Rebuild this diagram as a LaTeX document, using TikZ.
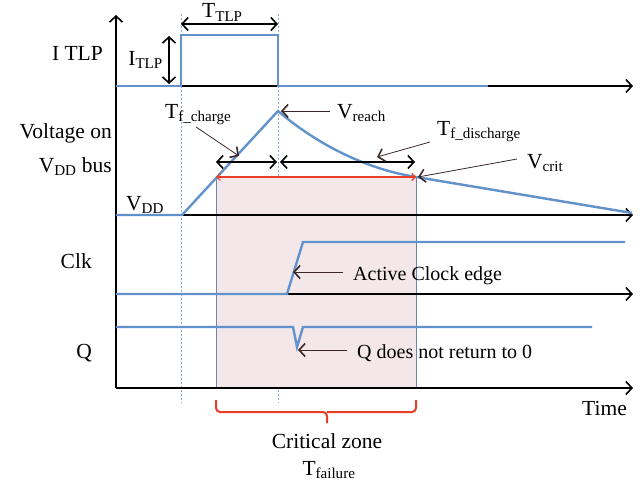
\documentclass[tikz,border=0pt]{standalone}
\usepackage{fontspec}
\setmainfont{Liberation Serif}
\usepackage{tikz}
\usetikzlibrary{arrows.meta,positioning}

\definecolor{sig}{RGB}{98,146,204}
\definecolor{zonefill}{RGB}{243,231,233}
\definecolor{zoneline}{RGB}{104,134,176}
\definecolor{crit}{RGB}{232,62,40}
\definecolor{guideblue}{RGB}{140,170,210}
\definecolor{pointer}{RGB}{60,40,40}

\tikzset{
	chev/.tip={Straight Barb[length=6pt,width=13pt,line width=1.6pt]},
	smallchev/.tip={Straight Barb[length=3.5pt,width=7pt,line width=1.2pt]},
	axis/.style={black,line width=1.5pt,-chev},
	signal/.style={sig,line width=2.4pt},
	guide/.style={guideblue,dash pattern=on 2pt off 2pt,line width=0.8pt},
	span/.style={black,line width=2pt,chev-chev},
	note/.style={pointer,line width=0.8pt,-chev},
	lbl/.style={inner sep=0pt,font=\fontsize{21.5}{25}\selectfont},
	txt/.style={inner sep=0pt,font=\fontsize{20}{24}\selectfont},
}

\begin{document}
\begin{tikzpicture}[x=1pt,y=-1pt]
	\useasboundingbox (0,0) rectangle (644,487);

	\draw[guide] (181,14) -- (181,403);
	\draw[guide] (278,14) -- (278,403);

	\draw[fill=zonefill,draw=zoneline,line width=0.8pt] (216,177) rectangle (416,388);

	\coordinate (o)     at (116,388);
	\coordinate (ytop)  at (116,15);
	\coordinate (i0)    at (116,86);
	\coordinate (i1)    at (633,86);
	\coordinate (v0)    at (116,215);
	\coordinate (v1)    at (633,215);
	\coordinate (c0)    at (116,294);
	\coordinate (c1)    at (633,294);
	\coordinate (t1)    at (633,388);

	\draw[axis] (o)  -- (ytop);
	\draw[axis] (i0) -- (i1);
	\draw[axis] (v0) -- (v1);
	\draw[axis] (c0) -- (c1);
	\draw[axis] (o)  -- (t1);

	\draw[signal] (116,86) -- (181,86) -- (181,35) -- (278,35) -- (278,86) -- (488,86);
	\draw[signal] (116,215) -- (182,215) -- (278,111)
		.. controls (312,140) and (360,168) .. (416,177) -- (632,213);
	\draw[signal] (116,294) -- (287,294) -- (303,242) -- (625,242);
	\draw[signal] (116,327) -- (293,327) -- (297,347) -- (303,327) -- (592,327);

	\node[lbl,anchor=base east] (itlp)  at (103,60)  {I TLP};
	\node[lbl,anchor=base east] (vbus)  at (112,138) {Voltage on};
	\node[lbl,anchor=base east] (vbus2) at (112,172) {V\textsubscript{DD} bus};
	\node[lbl,anchor=base east] (clk)   at (92,268)  {Clk};
	\node[lbl,anchor=base east] (q)     at (92,358)  {Q};
	\node[lbl,anchor=base west] (time)  at (582,415) {Time};

	\coordinate (tlpl) at (181,24);
	\coordinate (tlpr) at (278,24);
	\coordinate (itop) at (169,36);
	\coordinate (ibot) at (169,84);
	\draw[span,line width=1.5pt] (tlpl) -- (tlpr);
	\draw[span,line width=1.5pt] (itop) -- (ibot);
	\node[lbl,anchor=base west] (ttlp) at (202,18) {T\textsubscript{TLP}};
	\node[lbl,anchor=base east] (iamp) at (163,65) {I\textsubscript{TLP}};

	\node[lbl,anchor=base west] (vdd) at (126,210) {V\textsubscript{DD}};

	\coordinate (chgl) at (216,162);
	\coordinate (chgr) at (277,162);
	\coordinate (disl) at (280,162);
	\coordinate (disr) at (415,162);
	\draw[span] (chgl) -- (chgr);
	\draw[span] (disl) -- (disr);

	\coordinate (zl) at (216,177);
	\coordinate (zr) at (416,177);
	\draw[crit,line width=1.4pt,smallchev-smallchev] (zl) -- (zr);

	\node[lbl,anchor=base west] (tchg)  at (165,118) {T\textsubscript{f\_charge}};
	\node[lbl,anchor=base west] (vrch)  at (337,118) {V\textsubscript{reach}};
	\node[lbl,anchor=base west] (tdis)  at (437,135) {T\textsubscript{f\_discharge}};
	\node[lbl,anchor=base west] (vcrit) at (527,168) {V\textsubscript{crit}};

	\coordinate (tchga) at (196,127);
	\coordinate (tchgb) at (239,156);
	\coordinate (vrcha) at (330,111);
	\coordinate (vrchb) at (281,111);
	\coordinate (tdisa) at (430,142);
	\coordinate (tdisb) at (377,157);
	\coordinate (vcrta) at (517,159);
	\coordinate (vcrtb) at (418,177);
	\draw[note] (tchga) -- (tchgb);
	\draw[note] (vrcha) -- (vrchb);
	\draw[note] (tdisa) -- (tdisb);
	\draw[note] (vcrta) -- (vcrtb);

	\node[txt,anchor=base west] (edge) at (353,280) {Active Clock edge};
	\node[txt,anchor=base west] (qret) at (357,358) {Q does not return to 0};
	\coordinate (edgea) at (343,272);
	\coordinate (edgeb) at (293,272);
	\coordinate (qreta) at (347,350);
	\coordinate (qretb) at (298,350);
	\draw[note] (edgea) -- (edgeb);
	\draw[note] (qreta) -- (qretb);

	\draw[crit,line width=2pt,rounded corners=4pt]
		(216,400) -- (216,412) -- (327,412) -- (327,423)
		(327,412) -- (416,412) -- (416,400);
	\node[lbl,anchor=base] (czone) at (327,448) {Critical zone};
	\node[lbl,anchor=base] (tfail) at (329,475) {T\textsubscript{failure}};
\end{tikzpicture}
\end{document}
